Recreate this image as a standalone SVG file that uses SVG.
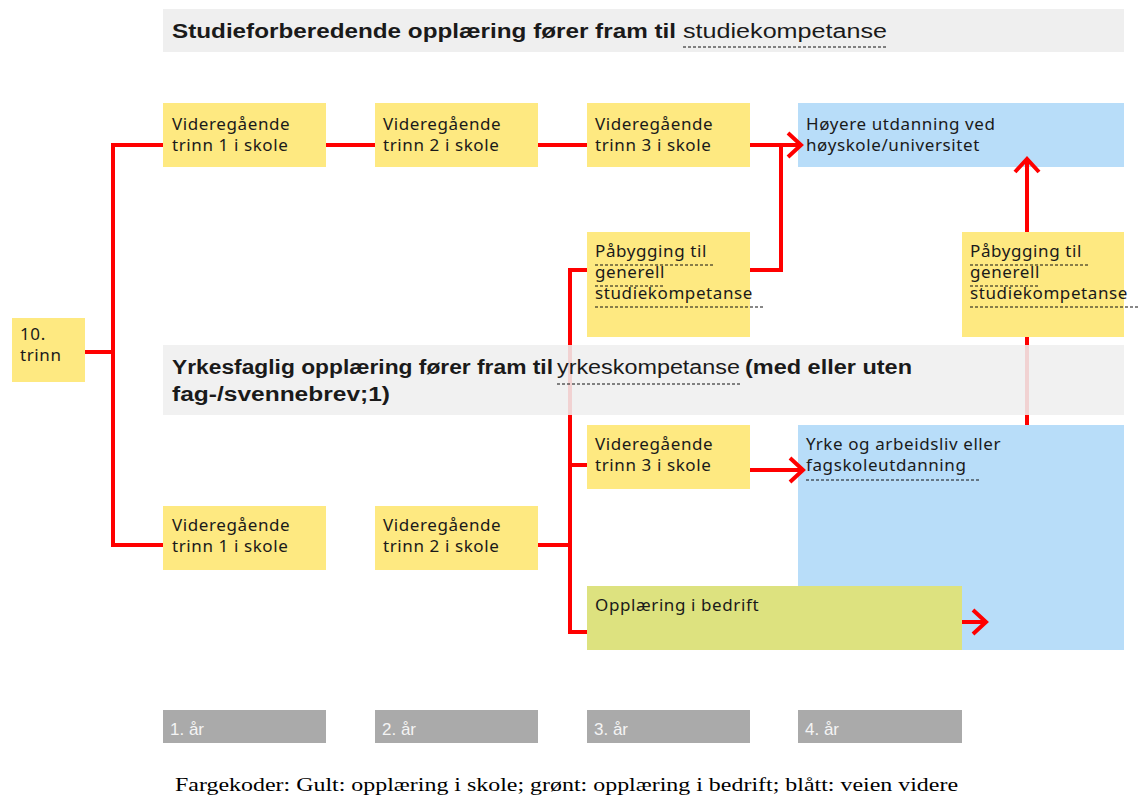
<svg xmlns="http://www.w3.org/2000/svg" width="1144" height="799" viewBox="0 0 1144 799">
<style>
.y{fill:#fee981}
.b{fill:#b8ddf9}
.g{fill:#dde27f}
.t{font-family:"Noto Sans","Open Sans",sans-serif;font-size:17px;letter-spacing:0.6px;fill:#1a1a1a}
.h{font-family:"Liberation Sans",Arial,sans-serif;font-size:20px;fill:#1a1a1a}
.hb{font-weight:bold}
.u{stroke:#111;stroke-width:1;stroke-dasharray:3 2;fill:none}
.c{stroke:#ff0000;stroke-width:4;fill:none}
.yr{fill:#aaaaaa}
.yt{font-family:"Liberation Sans",Arial,sans-serif;font-size:17px;fill:#f4f4f4}
</style>
<defs>
<marker id="ah" viewBox="-16 -15 20 30" refX="0" refY="0" markerWidth="20" markerHeight="30" markerUnits="userSpaceOnUse" orient="auto">
<path d="M-13,-12 L0,0 L-13,12" stroke="#ff0000" stroke-width="4" fill="none" stroke-linejoin="miter"/>
</marker>
</defs>
<rect width="1144" height="799" fill="#ffffff"/>

<g id="header1">
<rect x="163" y="9" width="961" height="43" fill="#efefef"/>
<text class="h hb" x="172" y="38" textLength="504" lengthAdjust="spacingAndGlyphs">Studieforberedende opplæring fører fram til</text>
<text class="h" x="683" y="38" textLength="204" lengthAdjust="spacingAndGlyphs">studiekompetanse</text>
<line class="u" x1="683" y1="47" x2="887" y2="47"/>
</g>

<g id="n10">
<rect class="y" x="12" y="318" width="73" height="64"/>
<text class="t" x="20" y="340">10.</text>
<text class="t" x="20" y="361">trinn</text>
</g>

<g id="s1">
<rect class="y" x="163" y="103" width="163" height="64"/>
<text class="t" x="172" y="130">Videregående</text>
<text class="t" x="172" y="151">trinn 1 i skole</text>
</g>
<g id="s2">
<rect class="y" x="375" y="103" width="163" height="64"/>
<text class="t" x="383" y="130">Videregående</text>
<text class="t" x="383" y="151">trinn 2 i skole</text>
</g>
<g id="s3">
<rect class="y" x="587" y="103" width="163" height="64"/>
<text class="t" x="595" y="130">Videregående</text>
<text class="t" x="595" y="151">trinn 3 i skole</text>
</g>
<g id="hoyere">
<rect class="b" x="798" y="103" width="326" height="64"/>
<text class="t" x="806" y="130">Høyere utdanning ved</text>
<text class="t" x="806" y="151">høyskole/universitet</text>
</g>

<g id="pab1">
<rect class="y" x="587" y="232" width="163" height="105"/>
<text class="t" x="595" y="257">Påbygging til</text>
<text class="t" x="595" y="278">generell</text>
<text class="t" x="595" y="299">studiekompetanse</text>
<line class="u" x1="595" y1="265" x2="714" y2="265"/>
<line class="u" x1="595" y1="286" x2="664" y2="286"/>
<line class="u" x1="595" y1="307" x2="765" y2="307"/>
</g>
<g id="pab2">
<rect class="y" x="962" y="232" width="162" height="105"/>
<text class="t" x="970" y="257">Påbygging til</text>
<text class="t" x="970" y="278">generell</text>
<text class="t" x="970" y="299">studiekompetanse</text>
<line class="u" x1="970" y1="265" x2="1089" y2="265"/>
<line class="u" x1="970" y1="286" x2="1039" y2="286"/>
<line class="u" x1="970" y1="307" x2="1140" y2="307"/>
</g>

<g id="yrke">
<rect class="b" x="798" y="425" width="326" height="225"/>
<text class="t" x="806" y="450">Yrke og arbeidsliv eller</text>
<text class="t" x="806" y="471">fagskoleutdanning</text>
<line class="u" x1="806" y1="480" x2="980" y2="480"/>
</g>
<g id="y3">
<rect class="y" x="587" y="425" width="163" height="64"/>
<text class="t" x="595" y="450">Videregående</text>
<text class="t" x="595" y="471">trinn 3 i skole</text>
</g>
<g id="y1">
<rect class="y" x="163" y="506" width="163" height="64"/>
<text class="t" x="172" y="531">Videregående</text>
<text class="t" x="172" y="552">trinn 1 i skole</text>
</g>
<g id="y2">
<rect class="y" x="375" y="506" width="163" height="64"/>
<text class="t" x="383" y="531">Videregående</text>
<text class="t" x="383" y="552">trinn 2 i skole</text>
</g>
<g id="bedrift">
<rect class="g" x="587" y="586" width="375" height="64"/>
<text class="t" x="595" y="611">Opplæring i bedrift</text>
</g>

<g id="connectors">
<path class="c" d="M85,352 H113"/>
<path class="c" d="M113,145 V545"/>
<path class="c" d="M111,145 H163"/>
<path class="c" d="M111,545 H163"/>
<path class="c" d="M326,145 H375"/>
<path class="c" d="M538,145 H587"/>
<path class="c" d="M750,145 H801" marker-end="url(#ah)"/>
<path class="c" d="M750,270 H781 V145"/>
<path class="c" d="M587,270 H570 V632 H587"/>
<path class="c" d="M570,465 H587"/>
<path class="c" d="M538,545 H570"/>
<path class="c" d="M750,470 H803" marker-end="url(#ah)"/>
<path class="c" d="M962,622 H986" marker-end="url(#ah)"/>
<path class="c" d="M1027,425 V337"/>
<path class="c" d="M1027,232 V159" marker-end="url(#ah)"/>
</g>

<g id="header2">
<rect x="163" y="345" width="961" height="70" fill="#efefef" fill-opacity="0.88"/>
<text class="h hb" x="172" y="374" textLength="381" lengthAdjust="spacingAndGlyphs">Yrkesfaglig opplæring fører fram til</text>
<text class="h" x="557" y="374" textLength="183" lengthAdjust="spacingAndGlyphs">yrkeskompetanse</text>
<text class="h hb" x="745" y="374" textLength="167" lengthAdjust="spacingAndGlyphs">(med eller uten</text>
<text class="h hb" x="172" y="401" textLength="218" lengthAdjust="spacingAndGlyphs">fag-/svennebrev;1)</text>
<line class="u" x1="557" y1="384" x2="740" y2="384"/>
</g>

<g id="years">
<rect class="yr" x="163" y="710" width="163" height="33"/>
<rect class="yr" x="375" y="710" width="163" height="33"/>
<rect class="yr" x="587" y="710" width="163" height="33"/>
<rect class="yr" x="798" y="710" width="164" height="33"/>
<text class="yt" x="170" y="735">1. år</text>
<text class="yt" x="382" y="735">2. år</text>
<text class="yt" x="594" y="735">3. år</text>
<text class="yt" x="805" y="735">4. år</text>
</g>

<text x="175" y="791" font-family="Liberation Serif,'Times New Roman',serif" font-size="19" fill="#000" textLength="783" lengthAdjust="spacingAndGlyphs">Fargekoder: Gult: opplæring i skole; grønt: opplæring i bedrift; blått: veien videre</text>
</svg>
